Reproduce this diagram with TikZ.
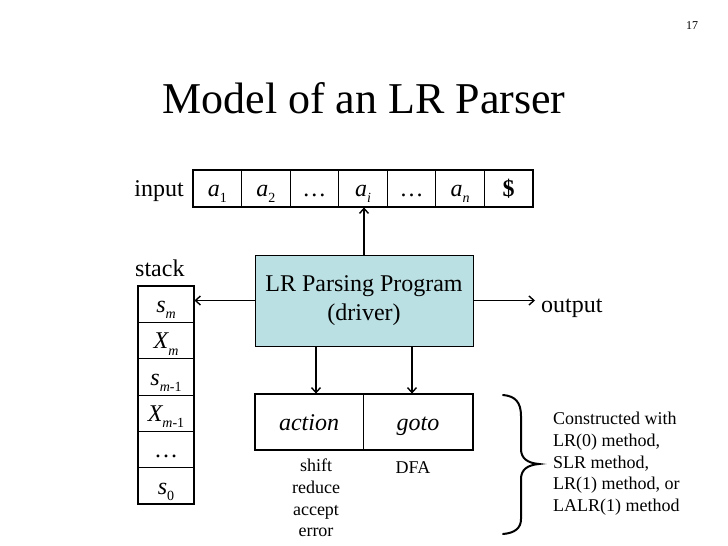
\documentclass[tikz,border=0pt]{standalone}
\usepackage{fontspec}
\setmainfont{Liberation Serif}
\usetikzlibrary{arrows.meta}
\definecolor{progfill}{RGB}{187,224,227}
\newcommand\sz[2]{\fontsize{#1}{#2}\selectfont}
\newcommand\lo[1]{\raisebox{-0.25em}{\fontsize{14}{14}\selectfont #1}}
\begin{document}
\begin{tikzpicture}[x=1pt,y=-1pt,
  cell/.style={draw=black,line width=0.8pt,minimum width=48.57pt,minimum height=37pt,inner sep=0pt,text height=19pt,text depth=3pt,anchor=center,font=\sz{24}{28}},
  scell/.style={draw=black,line width=0.8pt,minimum width=56pt,minimum height=36.33pt,inner sep=0pt,text height=19.5pt,text depth=2.5pt,anchor=center,font=\sz{24}{28}},
  tcell/.style={draw=black,line width=0.8pt,minimum height=56pt,inner sep=0pt,text height=19pt,text depth=3pt,anchor=center,font=\sz{24}{28}\itshape},
  thick box/.style={draw=black,line width=2pt},
  arr/.style={line width=1.6pt,-{Straight Barb[length=5pt,width=9pt,line width=1.4pt]}},
  lbl/.style={inner sep=0pt,anchor=base,font=\sz{24}{28}},
  small/.style={inner sep=0pt,anchor=base,font=\sz{18}{21.7}}]
\useasboundingbox (0,0) rectangle (728,546);
\fill[white] (0,0) rectangle (728,546);
% page number and title
\node[inner sep=0pt,anchor=base,font=\sz{12}{14}] (pg) at (692,29) {17};
\node[inner sep=0pt,anchor=base,font=\sz{44}{52}] (title) at (364,113) {Model of an LR Parser};
% input tape
\node[lbl,anchor=base east] (inlbl) at (184,196) {input};
\foreach \i/\t in {1/{\itshape a}\lo{1},2/{\itshape a}\lo{2},3/\dots,4/{\itshape a}\lo{\itshape i},5/\dots,6/{\itshape a}\lo{\itshape n},7/\textbf{\$}}
  \node[cell] (t\i) at ({193+(\i-0.5)*48.57},188.5) {\t};
\draw[thick box] (t1.north west) rectangle (t7.south east);
% stack
\node[lbl,anchor=base west] (stlbl) at (135,276) {stack};
\foreach \i/\t in {1/{\itshape s}\lo{\itshape m},2/{\itshape X}\lo{\itshape m},3/{\itshape s}\lo{{\itshape m}-1},4/{\itshape X}\lo{{\itshape m}-1},5/\dots,6/{\itshape s}\lo{0}}
  \node[scell] (s\i) at (166,{286+(\i-0.5)*36.33}) {\t};
\draw[thick box] (s1.north west) rectangle (s6.south east);
% program
\node[draw=black,line width=0.8pt,fill=progfill,minimum width=218pt,minimum height=91pt,inner sep=0pt,align=center,font=\sz{24}{29}] (prog) at (364,300.5) {LR Parsing Program\\(driver)};
% tables
\node[tcell,minimum width=108pt] (act) at (309,422) {action};
\node[tcell,minimum width=110pt] (gto) at (418,422) {goto};
\draw[thick box] (act.north west) rectangle (gto.south east);
% arrows
\draw[arr] (prog.north) -- (prog.north |- t4.south);
\draw[arr] (prog.west) -- (prog.west -| s1.east);
\coordinate (outp) at (535,300.5);
\draw[arr] (prog.east) -- (outp);
\node[lbl,anchor=base west] (outlbl) at (541,312) {output};
\draw[arr] ([xshift=-48pt]prog.south) -- ([xshift=-48pt]prog.south |- act.north);
\draw[arr] ([xshift=48pt]prog.south) -- ([xshift=48pt]prog.south |- gto.north);
% notes
\node[inner sep=0pt,align=center,font=\sz{18}{21.7},anchor=north] (acttxt) at (316,459) {shift\\reduce\\accept\\error};
\node[small] (dfa) at (413,473) {DFA};
% brace
\draw[line width=2pt,line cap=round] (503,395) .. controls (515,396) and (521,402) .. (521,416) -- (521,449) .. controls (521,458) and (527,463) .. (539,464) .. controls (527,465) and (521,470) .. (521,479) -- (521,519) .. controls (521,528) and (515,533) .. (503,534);
\node[inner sep=0pt,anchor=north west,align=left,font=\sz{18}{21.7}] (cons) at (553,412) {Constructed with\\LR(0) method,\\SLR method,\\LR(1) method, or\\LALR(1) method};
\end{tikzpicture}
\end{document}
